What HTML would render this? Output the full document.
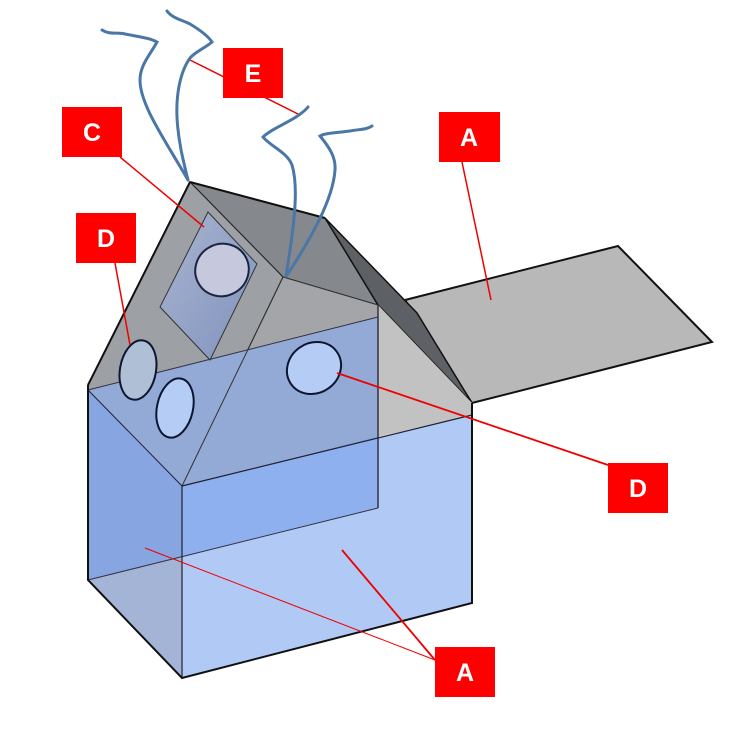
<!DOCTYPE html>
<html><head><meta charset="utf-8"><style>
html,body{margin:0;padding:0;background:#fff;}
svg{display:block;}
text{font-family:"Liberation Sans",sans-serif;font-weight:bold;font-size:25px;fill:#fff;text-anchor:middle;}
</style></head><body>
<svg width="745" height="741" viewBox="0 0 745 741" xmlns="http://www.w3.org/2000/svg">
<defs>
<linearGradient id="sk" x1="0" y1="0" x2="1" y2="1">
<stop offset="0" stop-color="#aab4d0"/><stop offset="1" stop-color="#7f92bd"/>
</linearGradient>
</defs>
<!-- E leader (behind) -->
<line x1="190" y1="60" x2="300" y2="115" stroke="#e00" stroke-width="1.5"/>
<!-- annex slab -->
<polygon points="405,300 618,246 712,342 472,403" fill="#b8b8b8" stroke="#111" stroke-width="2"/>
<!-- roof top dark -->
<polygon points="190,182 325,218 378,305 283,277" fill="#85888c" stroke="#222" stroke-width="1"/>
<!-- dark strip -->
<polygon points="325,218 417,313 472,403 378,305" fill="#5d6064" stroke="#111" stroke-width="1.5"/>
<!-- light grey gable -->
<polygon points="378,305 472,403 472,415 378,437" fill="#c2c2c2"/>
<!-- left slope -->
<polygon points="190,182 283,277 182,486 88,390 88,385" fill="#9da0a4" stroke="#222" stroke-width="1"/>
<polygon points="283,277 378,305 378,437 182,486" fill="#a3a5a8" stroke="#333" stroke-width="1"/>
<!-- back face overlay upper -->
<polygon points="88,390 378,317 378,437 182,486" fill="#93a9d6"/>
<line x1="182" y1="486" x2="283" y2="277" stroke="#333" stroke-width="1"/>
<!-- skylight -->
<polygon points="208,212 257,264 210,360 160,307" fill="url(#sk)" stroke="#333" stroke-width="1"/>
<ellipse cx="222" cy="270" rx="27" ry="26" transform="rotate(-30 222 270)" fill="#c6c9de" stroke="#1a2440" stroke-width="2"/>
<!-- left face -->
<polygon points="88,390 182,486 182,557 88,580" fill="#87a5e1"/>
<polygon points="88,580 182,557 182,678" fill="#a4b4d6"/>
<!-- right face -->
<polygon points="182,486 472,415 472,603 182,678" fill="#b1c9f5"/>
<polygon points="182,486 378,437 378,508 182,557" fill="#8eb0ef"/>
<!-- lines -->
<line x1="88" y1="390" x2="378" y2="317" stroke="#334" stroke-width="1"/>
<line x1="88" y1="580" x2="378" y2="508" stroke="#334" stroke-width="1"/>
<line x1="378" y1="305" x2="378" y2="508" stroke="#334" stroke-width="1.5"/>
<line x1="182" y1="486" x2="472" y2="415" stroke="#223" stroke-width="1.2"/>
<line x1="88" y1="390" x2="182" y2="486" stroke="#223" stroke-width="1"/>
<line x1="182" y1="486" x2="182" y2="678" stroke="#223" stroke-width="1.2"/>
<polyline points="88,385 88,580 182,678 472,603 472,403" fill="none" stroke="#111" stroke-width="2"/>
<line x1="88" y1="385" x2="190" y2="182" stroke="#111" stroke-width="2"/>
<line x1="190" y1="182" x2="325" y2="218" stroke="#111" stroke-width="2"/>
<!-- windows -->
<ellipse cx="138" cy="370" rx="18" ry="30" transform="rotate(10 138 370)" fill="#afbfd6" stroke="#0d1530" stroke-width="2"/>
<ellipse cx="175" cy="408" rx="18" ry="30" transform="rotate(12 175 408)" fill="#b5cdf5" stroke="#0d1530" stroke-width="2"/>
<ellipse cx="314" cy="368" rx="28" ry="25" transform="rotate(-35 314 368)" fill="#b5cdf5" stroke="#0d1530" stroke-width="2"/>
<!-- smoke -->
<g fill="none" stroke="#4a77a6" stroke-width="3" stroke-linecap="round">
<path d="M102,30 C110,35 118,32 125,34 C140,37 150,38 157,42 C150,55 140,65 140,80 C140,105 165,140 188,180"/>
<path d="M167,11 C172,18 182,20 190,24 C200,30 208,36 212,42 C205,48 195,52 190,58 C180,72 176,95 177,117 C178,140 183,160 188,180"/>
<path d="M308,107 C304,112 300,114 296,117 C285,124 270,130 263,137 C270,146 287,152 292,165 C298,185 296,215 286,276"/>
<path d="M372,126 C366,130 360,129 350,131 C335,133 325,133 320,136 C330,148 336,158 335,170 C333,200 310,240 287,275"/>
</g>
<!-- leaders -->
<g stroke="#e00" fill="none">
<line x1="120" y1="157" x2="204" y2="227" stroke-width="1.5"/>
<line x1="115" y1="263" x2="130" y2="345" stroke-width="1.5"/>
<line x1="462" y1="162" x2="491" y2="300" stroke-width="1.5"/>
<line x1="337" y1="373" x2="608" y2="465" stroke-width="1.8"/>
<line x1="145" y1="548" x2="435" y2="660" stroke-width="1"/>
<line x1="342" y1="550" x2="435" y2="660" stroke-width="1.8"/>
</g>
<!-- labels -->
<g fill="#ff0000">
<rect x="223" y="48" width="60" height="50"/>
<rect x="62" y="107" width="60" height="50"/>
<rect x="76" y="213" width="60" height="50"/>
<rect x="439" y="112" width="61" height="50"/>
<rect x="608" y="463" width="60" height="50"/>
<rect x="435" y="647" width="60" height="50"/>
</g>
<text x="253" y="82">E</text>
<text x="92" y="141">C</text>
<text x="106" y="247">D</text>
<text x="469" y="146">A</text>
<text x="638" y="497">D</text>
<text x="465" y="681">A</text>
</svg>
</body></html>
